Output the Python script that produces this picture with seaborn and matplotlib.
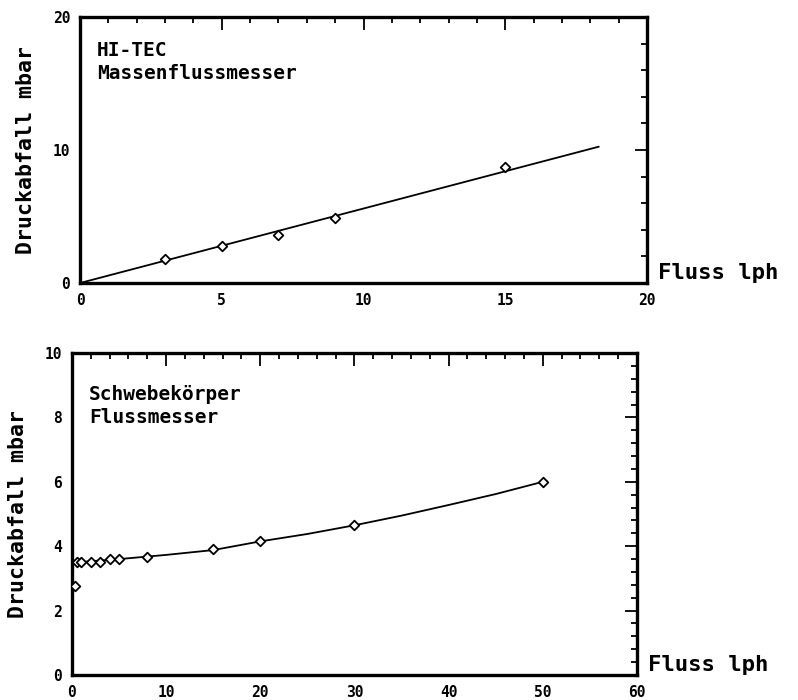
import matplotlib
matplotlib.use("Agg")
import matplotlib.pyplot as plt
import pandas as pd
import seaborn as sb
from matplotlib.ticker import MultipleLocator

# Messwerte oben: HI-TEC Massenflussmesser
hitec_fluss = [3, 5, 7, 9, 15]
hitec_druck = [1.8, 2.8, 3.6, 4.9, 8.7]
hitec_fit_x = [0, 18.3]
hitec_fit_y = [0, 10.25]

# Messwerte unten: Schwebekörper Flussmesser
schweb_fluss = [0.3, 0.5, 1, 2, 3, 4, 5, 8, 15, 20, 30, 50]
schweb_druck = [2.75, 3.5, 3.5, 3.5, 3.5, 3.6, 3.6, 3.65, 3.9, 4.15, 4.65, 6.0]
schweb_fit_x = [0.5, 5, 10, 15, 20, 25, 30, 35, 40, 45, 50]
schweb_fit_y = [3.5, 3.6, 3.73, 3.88, 4.15, 4.38, 4.65, 4.95, 5.28, 5.62, 6.0]

sb.set_theme(style="white")
plt.rcParams["font.family"] = ["DejaVu Sans Mono", "DejaVu Sans"]
plt.rcParams["font.weight"] = "bold"
plt.rcParams["text.color"] = "black"
plt.rcParams["axes.labelcolor"] = "black"
plt.rcParams["xtick.color"] = "black"
plt.rcParams["ytick.color"] = "black"

fig = plt.figure(figsize=(7.98, 7.0), dpi=100)
ax1 = fig.add_axes([0.1003, 0.5957, 0.7105, 0.38])
ax2 = fig.add_axes([0.0902, 0.0357, 0.708, 0.46])

def panel(ax, fx, fy, lx, ly, text, ty, xmax, ymax, xmaj, xmin, ymaj, ymin):
    sb.lineplot(x=lx, y=ly, ax=ax, color="black", linewidth=1.3)
    sb.scatterplot(x=fx, y=fy, ax=ax, marker="D", s=24, facecolor="white",
                   edgecolor="black", linewidth=1.3, zorder=3)
    ax.set_xlim(0, xmax)
    ax.set_ylim(0, ymax)
    ax.xaxis.set_major_locator(MultipleLocator(xmaj))
    ax.xaxis.set_minor_locator(MultipleLocator(xmin))
    ax.yaxis.set_major_locator(MultipleLocator(ymaj))
    ax.yaxis.set_minor_locator(MultipleLocator(ymin))
    ax.tick_params(which="both", direction="in", top=True, right=True,
                   labelsize=10.5, color="black", width=1.3)
    ax.tick_params(which="major", length=9, pad=7)
    ax.tick_params(which="minor", length=4)
    for s in ax.spines.values():
        s.set_color("black")
        s.set_linewidth(2.4)
    ax.set_ylabel("Druckabfall mbar", fontsize=15.5, fontweight="bold", labelpad=12)
    ax.set_xlabel("")
    ax.text(1.02, 0.0, "Fluss lph", transform=ax.transAxes, fontsize=16,
            fontweight="bold", ha="left", va="bottom")
    ax.text(0.03, ty, text, transform=ax.transAxes, fontsize=14,
            fontweight="bold", ha="left", va="center", linespacing=1.25)

panel(ax1, hitec_fluss, hitec_druck, hitec_fit_x, hitec_fit_y,
      "HI-TEC\nMassenflussmesser", 0.83, 20, 20, 5, 1, 10, 2)
panel(ax2, schweb_fluss, schweb_druck, schweb_fit_x, schweb_fit_y,
      "Schwebekörper\nFlussmesser", 0.835, 60, 10, 10, 2, 2, 0.4)

fig.savefig("out.png", dpi=100, facecolor="white")
